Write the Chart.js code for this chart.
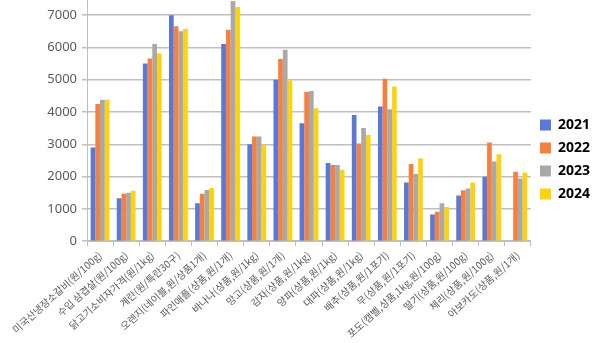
<!DOCTYPE html>
<html>
<head>
<meta charset="utf-8">
<script src="https://cdn.jsdelivr.net/npm/chart.js@4"></script>
<style>
  html, body { margin: 0; padding: 0; background: #fff; }
  #wrap { width: 600px; height: 343px; }
</style>
</head>
<body>
<div id="wrap"><canvas id="chart" width="600" height="343"></canvas></div>
<script>
const categories = [
  '미국산냉장소갈비(원/100g)', '수입 삼겹살(원/100g)', '닭고기소비자가격(원/1kg)',
  '계란(원/특란30구)', '오렌지(네이블,원/상품1개)', '파인애플(상품,원/1개)',
  '바나나(상품,원/1kg)', '망고(상품,원/1개)', '감자(상품,원/1kg)',
  '양파(상품,원/1kg)', '대파(상품,원/1kg)', '배추(상품,원/1포기)',
  '무(상품,원/1포기)', '포도(캠벨,상품,1kg,원/100g)', '딸기(상품,원/100g)',
  '체리(상품,원/100g)', '아보카도(상품,원/1개)'
];
const years = ['2021', '2022', '2023', '2024'];
const values2021 = [2900, 1330, 5500, 7000, 1180, 6110, 3000, 5000, 3650, 2420, 3910, 4170, 1820, 830, 1420, 2000, null];
const values2022 = [4250, 1470, 5660, 6660, 1470, 6550, 3240, 5640, 4620, 2360, 3030, 5030, 2390, 910, 1580, 3060, 2150];
const values2023 = [4380, 1500, 6110, 6500, 1590, 7440, 3240, 5930, 4650, 2360, 3510, 4090, 2080, 1180, 1630, 2470, 1940];
const values2024 = [4380, 1560, 5810, 6570, 1650, 7250, 2990, 4980, 4120, 2210, 3290, 4790, 2570, 1060, 1820, 2690, 2130];
const yTicks = [0, 1000, 2000, 3000, 4000, 5000, 6000, 7000];

const colors = ['#5a78d4', '#f5803f', '#a9a9a9', '#ffd20f'];
const series = [values2021, values2022, values2023, values2024];

const ctx = document.getElementById('chart').getContext('2d');
new Chart(ctx, {
  type: 'bar',
  data: {
    labels: categories,
    datasets: series.map((vals, i) => ({
      label: years[i],
      data: vals,
      backgroundColor: colors[i],
      categoryPercentage: 0.72,
      barPercentage: 1.0
    }))
  },
  options: {
    responsive: false,
    animation: false,
    layout: { padding: 0 },
    scales: {
      x: {
        grid: { drawOnChartArea: false, drawTicks: true, tickLength: 5, offset: true, color: '#bfbfbf' },
        border: { color: '#bfbfbf' },
        ticks: {
          minRotation: 42, maxRotation: 42, autoSkip: false,
          color: '#595959',
          font: { family: "'Noto Sans CJK KR'", size: 10 }
        }
      },
      y: {
        min: 0,
        max: 7470,
        afterBuildTicks: scale => {
          scale.ticks = yTicks.map(v => ({ value: v }));
        },
        afterFit: scale => {
          scale.width = 87;
          scale.paddingTop = 0;
        },
        grid: {
          color: c => (c.tick && yTicks.includes(c.tick.value) ? '#bfbfbf' : 'rgba(0,0,0,0)'),
          lineWidth: 1.5, tickLength: 5
        },
        border: { color: '#bfbfbf' },
        ticks: {
          color: '#595959',
          padding: 5,
          font: { family: "'Noto Sans'", size: 13 },
          callback: v => String(v)
        }
      }
    },
    plugins: {
      legend: {
        position: 'right',
        labels: {
          boxWidth: 11, boxHeight: 11, padding: 9,
          color: '#000',
          font: { family: "'Noto Sans'", size: 14, weight: 'bold' }
        }
      },
      tooltip: { enabled: false }
    }
  },
  plugins: [{
    id: 'legendShift',
    afterLayout(chart) {
      // legend sits a bit above the middle in the original
      chart.legend.top -= 12;
      chart.legend.bottom -= 12;
    }
  }]
});
</script>
</body>
</html>
